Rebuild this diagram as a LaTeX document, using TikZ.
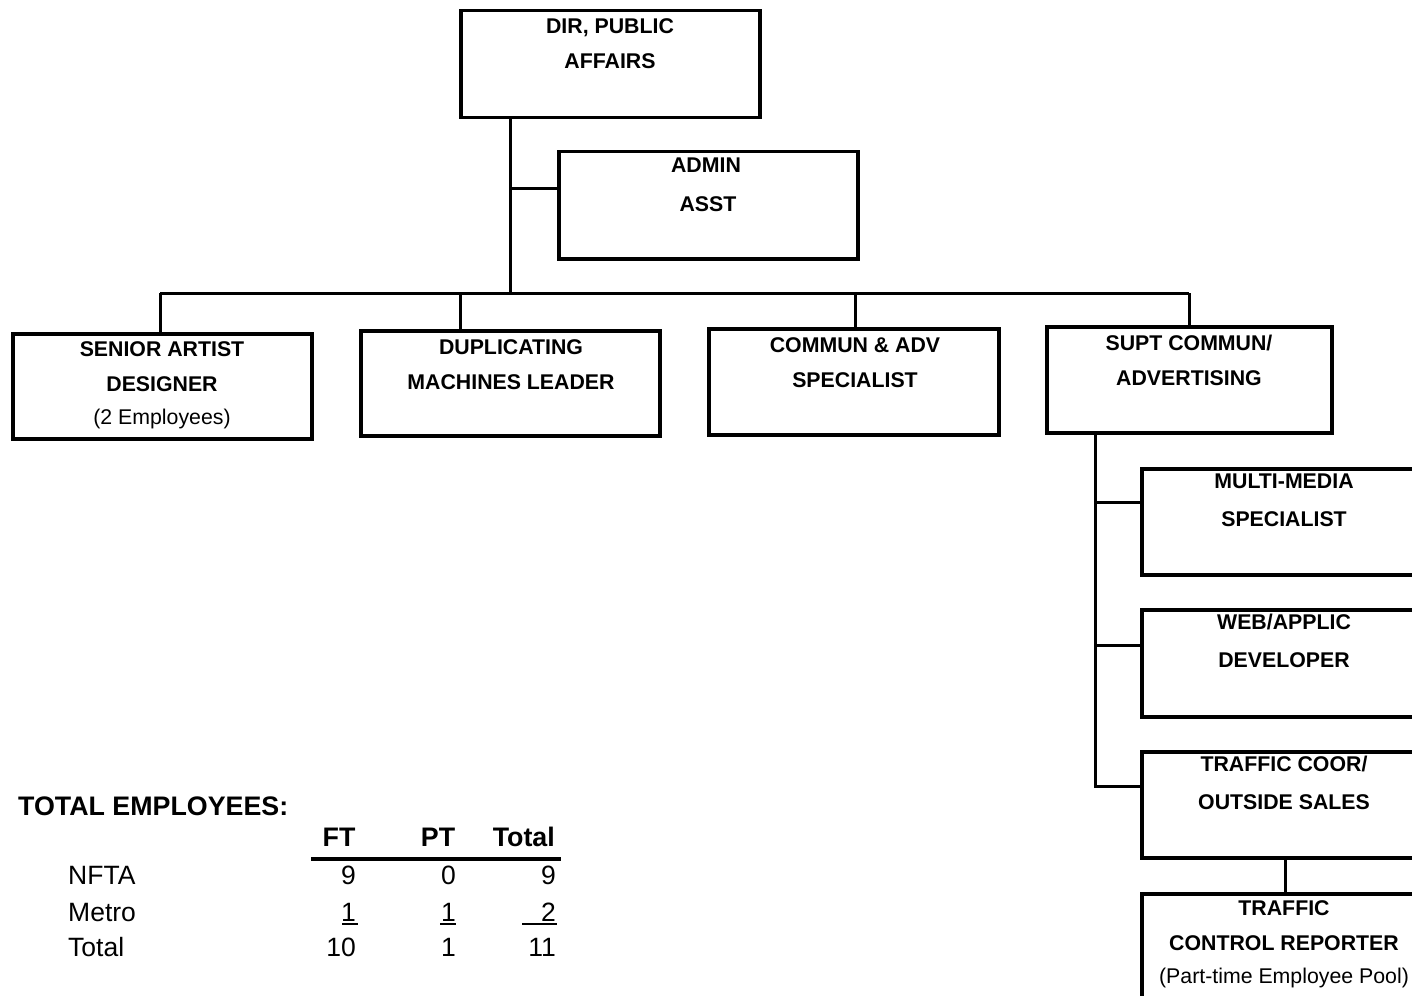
\documentclass[tikz,border=0pt]{standalone}
\usepackage{fontspec}
\setmainfont{Liberation Sans}
\begin{document}
\begin{tikzpicture}[x=1pt,y=-1pt,
  box/.style={draw=black,line width=3.5pt,anchor=north west,inner sep=0pt,minimum width=#1},
  conn/.style={draw=black,line width=3pt},
  lbl/.style={anchor=base,inner sep=0pt,font=\fontsize{21.3}{25}\selectfont\bfseries},
  sub/.style={anchor=base,inner sep=0pt,font=\fontsize{21.3}{25}\selectfont},
  thead/.style={anchor=base,inner sep=0pt,font=\fontsize{26.8}{31}\selectfont\bfseries},
  tcell/.style={anchor=base east,inner sep=0pt,font=\fontsize{26.5}{31}\selectfont},
  trow/.style={anchor=base west,inner sep=0pt,font=\fontsize{26.5}{31}\selectfont}]
\clip (0,0) rectangle (1412,995);
\fill[white] (0,0) rectangle (1412,995);

% boxes
\node[box=299pt,minimum height=107pt] (dir) at (459,9) {};
\node[box=299pt,minimum height=107pt] (admin) at (557,150) {};
\node[box=299pt,minimum height=105pt] (sen) at (11,332) {};
\node[box=299pt,minimum height=105pt] (dup) at (359,329) {};
\node[box=290pt,minimum height=106pt] (com) at (707,327) {};
\node[box=285pt,minimum height=106pt] (supt) at (1045,325) {};
\node[box=288pt,minimum height=106pt] (mm) at (1140,467) {};
\node[box=288pt,minimum height=107pt] (web) at (1140,608) {};
\node[box=288pt,minimum height=106pt] (coor) at (1140,750) {};
\node[box=288pt,minimum height=120pt] (rep) at (1140,892) {};

% box texts
\node[lbl] (dir1) at (610,34) {DIR, PUBLIC};
\node[lbl] (dir2) at (610,69) {AFFAIRS};
\node[lbl] (adm1) at (706,173) {ADMIN};
\node[lbl] (adm2) at (708,211) {ASST};
\node[lbl] (sen1) at (162,356) {SENIOR ARTIST};
\node[lbl] (sen2) at (162,391) {DESIGNER};
\node[sub] (sen3) at (162,424) {(2 Employees)};
\node[lbl] (dup1) at (511,354) {DUPLICATING};
\node[lbl] (dup2) at (511,389) {MACHINES LEADER};
\node[lbl] (com1) at (855,352) {COMMUN \& ADV};
\node[lbl] (com2) at (855,387) {SPECIALIST};
\node[lbl] (supt1) at (1189,350) {SUPT COMMUN/};
\node[lbl] (supt2) at (1189,385) {ADVERTISING};
\node[lbl] (mm1) at (1284,488) {MULTI-MEDIA};
\node[lbl] (mm2) at (1284,526) {SPECIALIST};
\node[lbl] (web1) at (1284,629) {WEB/APPLIC};
\node[lbl] (web2) at (1284,667) {DEVELOPER};
\node[lbl] (coor1) at (1284,771) {TRAFFIC COOR/};
\node[lbl] (coor2) at (1284,809) {OUTSIDE SALES};
\node[lbl] (rep1) at (1284,915) {TRAFFIC};
\node[lbl] (rep2) at (1284,950) {CONTROL REPORTER};
\node[sub] (rep3) at (1284,983) {(Part-time Employee Pool)};

% junction points of the connector tree
\coordinate (trunk) at (510,293);
\coordinate (adminJ) at (510,188);
\coordinate (busL) at (160,293);
\coordinate (busR) at (1189,293);
\coordinate (dupJ) at (460,293);
\coordinate (comJ) at (855,293);
\coordinate (spine) at (1095,786);
\coordinate (mmJ) at (1095,502);
\coordinate (webJ) at (1095,645);

% connectors
\draw[conn] (trunk |- dir.south) -- (trunk);
\draw[conn] (adminJ) -- (adminJ -| admin.west);
\draw[conn] (busL) -- (busR);
\draw[conn] (busL) -- (busL |- sen.north);
\draw[conn] (dupJ) -- (dupJ |- dup.north);
\draw[conn] (comJ) -- (comJ |- com.north);
\draw[conn] (busR) -- (busR |- supt.north);
\draw[conn] (spine |- supt.south) -- (spine) -- (spine -| coor.west);
\draw[conn] (mmJ) -- (mmJ -| mm.west);
\draw[conn] (webJ) -- (webJ -| web.west);
\draw[conn] (coor.south) -- (rep.north);

% staffing summary
\node[thead,anchor=base west] (tot) at (18,815) {TOTAL EMPLOYEES:};
\node[thead] (hft) at (339,846) {FT};
\node[thead] (hpt) at (438,846) {PT};
\node[thead,anchor=base east] (htot) at (555,846) {Total};
\coordinate (ruleL) at (311,859);
\coordinate (ruleR) at (561,859);
\draw[line width=4pt] (ruleL) -- (ruleR);
\node[trow] (rNFTA) at (68,884) {NFTA};
\node[trow] (rMetro) at (68,921) {Metro};
\node[trow] (rTotal) at (68,956) {Total};
\node[tcell] (a1) at (356,884) {9};
\node[tcell] (a2) at (456,884) {0};
\node[tcell] (a3) at (556,884) {9};
\node[tcell] (b1) at (356,921) {1};
\node[tcell] (b2) at (456,921) {1};
\node[tcell] (b3) at (556,921) {2};
\node[tcell] (c1) at (356,956) {10};
\node[tcell] (c2) at (456,956) {1};
\node[tcell] (c3) at (556,956) {11};
% underlines beneath the Metro row
\coordinate (u1a) at (342,924); \coordinate (u1b) at (358,924);
\coordinate (u2a) at (440,924); \coordinate (u2b) at (456,924);
\coordinate (u3a) at (522,924); \coordinate (u3b) at (557,924);
\draw[line width=1.5pt] (u1a) -- (u1b) (u2a) -- (u2b) (u3a) -- (u3b);
\end{tikzpicture}
\end{document}
